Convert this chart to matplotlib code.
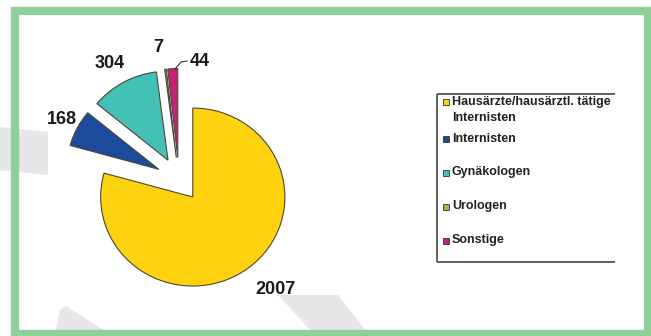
import matplotlib.pyplot as plt
from matplotlib.patches import Polygon, Rectangle

plt.rcParams["font.family"] = ["Liberation Sans", "DejaVu Sans"]

categories = ["Hausärzte/hausärztl. tätige\nInternisten", "Internisten",
              "Gynäkologen", "Urologen", "Sonstige"]
counts = [2007, 168, 304, 7, 44]
colors = ["#ffd20f", "#1c4b9c", "#43c1b7", "#9bbd3c", "#c8217a"]

W, H = 651, 336
SX = 1.035  # pie is drawn slightly wider than tall


def px(x, y):
    # pixel position (from top-left) -> data coords
    return x / SX, H - y


fig = plt.figure(figsize=(W / 100, H / 100), dpi=100)
fig.patch.set_facecolor("white")
ax = fig.add_axes([0, 0, 1, 1])

# faint grey watermark strokes behind the chart
grey = "#e7e7e7"
for pts in [
    [(0, 127), (48, 132), (48, 175), (0, 170)],
    [(60, 310), (66, 306), (108, 333), (55, 333)],
    [(278, 295), (338, 295), (368, 333), (313, 333)],
]:
    ax.add_patch(Polygon([px(*p) for p in pts], closed=True,
                         facecolor=grey, edgecolor="none", zorder=0))

# every slice pulled out by the same distance (data units)
cx, cy = px(179, 179.5)
wedges, _ = ax.pie(counts, colors=colors, startangle=90, counterclock=False,
                   explode=[22] * len(counts), center=(cx, cy), radius=89,
                   wedgeprops=dict(edgecolor="#4a4636", linewidth=0.8),
                   frame=True)
ax.set_xlim(0, W / SX)
ax.set_ylim(0, H)
ax.set_aspect("auto")
ax.axis("off")

# value labels
label_pos = [(276, 290), (62, 120), (110, 64), (158, 47), (200, 62)]
for n, (x, y) in zip(counts, label_pos):
    ax.text(*px(x, y), str(n), ha="center", va="center", fontsize=13,
            fontweight="bold", color="#1a1a1a", zorder=5)

# leader line for the small "Sonstige" slice
ax.plot(*zip(*[px(175, 69), px(181, 62), px(187, 61)]),
        color="#333333", lw=0.8, zorder=5)

# legend box (right side open)
box = "#555555"
for a, b in [((437, 94), (615, 94)), ((437, 94), (437, 262)),
             ((437, 262), (615, 262))]:
    ax.plot(*zip(px(*a), px(*b)), color=box, lw=1.3, zorder=4,
            solid_capstyle="butt")

legend_y = [102, 139, 173, 207, 241]
for label, color, y in zip(categories, colors, legend_y):
    x0, y0 = px(443, y + 3)
    ax.add_patch(Rectangle((x0, y0), 6 / SX, 6, facecolor=color,
                           edgecolor="#333333", lw=0.6, zorder=5))
    ax.text(*px(452, y - 6.5), label, ha="left", va="top", fontsize=9,
            fontweight="bold", color="#222222", linespacing=1.45, zorder=5)

# green frame
fig.patches.append(Rectangle((15 / W, 2 / H), 633 / W, 323 / H,
                             transform=fig.transFigure, fill=False,
                             edgecolor="#8fd09a", lw=6, zorder=10))

fig.savefig("out.png", dpi=100)
